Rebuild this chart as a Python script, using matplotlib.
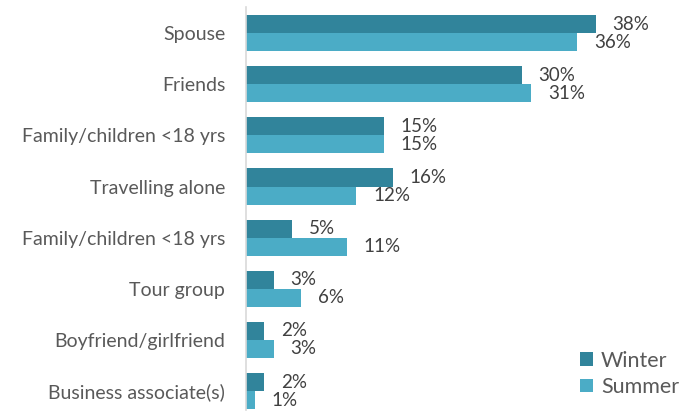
import numpy as np
import matplotlib.pyplot as plt

plt.rcParams['font.family'] = ['Lato', 'DejaVu Sans']

categories = ['Spouse', 'Friends', 'Family/children <18 yrs', 'Travelling alone',
              'Family/children <18 yrs', 'Tour group', 'Boyfriend/girlfriend',
              'Business associate(s)']
winter = [38, 30, 15, 16, 5, 3, 2, 2]
summer = [36, 31, 15, 12, 11, 6, 3, 1]

c_winter = '#31849B'
c_summer = '#4BACC6'

fig = plt.figure(figsize=(6.92, 4.12), dpi=100)
# axes placed in pixel terms: left edge at x=246, spans to the right edge
ax = fig.add_axes([246 / 692, 2 / 412, 446 / 692, 403 / 412])

y = np.arange(len(categories))
h = 0.353
ax.barh(y - h / 2, winter, height=h, color=c_winter, label='Winter')
ax.barh(y + h / 2, summer, height=h, color=c_summer, label='Summer')

for yi, w, s in zip(y, winter, summer):
    ax.annotate(f'{w}%', (w, yi - h / 2), xytext=(12, 0), textcoords='offset points',
                va='center', ha='left', fontsize=13.5, color='#404040')
    ax.annotate(f'{s}%', (s, yi + h / 2), xytext=(12, 0), textcoords='offset points',
                va='center', ha='left', fontsize=13.5, color='#404040')

ax.set_xlim(0, 446 / 9.2)
ax.set_ylim(7.37, -0.51)
ax.set_yticks(y)
ax.set_yticklabels(categories, fontsize=14, color='#595959')
ax.tick_params(axis='y', length=0, pad=15)
ax.set_xticks([])
for side in ['top', 'right', 'bottom']:
    ax.spines[side].set_visible(False)
ax.spines['left'].set_color('#D9D9D9')
ax.spines['left'].set_linewidth(1.2)

leg = ax.legend(loc='lower right', bbox_to_anchor=(1.0, 0.0), frameon=False,
                fontsize=15.5, handlelength=0.62, handleheight=0.62,
                handletextpad=0.35, labelspacing=0.3, labelcolor='#595959',
                borderaxespad=0.2)

fig.savefig('out.png', dpi=100)
